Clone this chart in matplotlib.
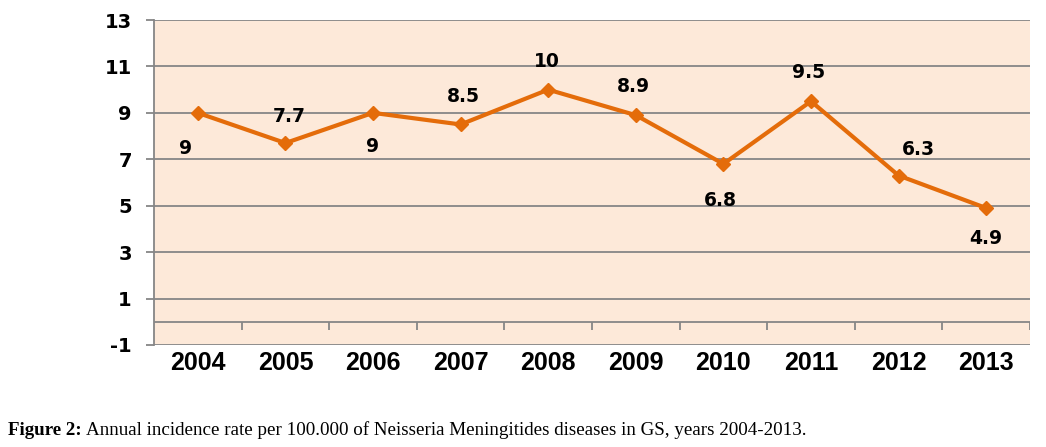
import matplotlib
matplotlib.use('Agg')
import matplotlib.pyplot as plt
import numpy as np

# === DATA ===
years = ['2004', '2005', '2006', '2007', '2008', '2009', '2010', '2011', '2012', '2013']
incidence = [9, 7.7, 9, 8.5, 10, 8.9, 6.8, 9.5, 6.3, 4.9]
value_labels = ['9', '7.7', '9', '8.5', '10', '8.9', '6.8', '9.5', '6.3', '4.9']
y_ticks = [-1, 1, 3, 5, 7, 9, 11, 13]

# label offsets in points (dx, dy), as placed in the original
label_offsets = [(-9, -26), (3, 19), (0, -24), (2, 20), (-1, 20),
                 (-2, 21), (-2, -26), (-2, 21), (14, 19), (0, -22)]

COLORS = {
    'line': '#E46C0A',
    'bg': '#FDE9D9',
    'grid': '#868686',
    'text': '#000000',
}

fig = plt.figure(figsize=(10.46, 4.47), dpi=100)
ax = fig.add_axes([154 / 1046, (447 - 345) / 447, (1030 - 154) / 1046, 325 / 447])
ax.set_facecolor(COLORS['bg'])

x = np.arange(len(years))
ax.plot(x, incidence, color=COLORS['line'], linewidth=3, marker='D',
        markersize=7.5, markeredgecolor=COLORS['line'], zorder=3)

for xi, val, txt, (dx, dy) in zip(x, incidence, value_labels, label_offsets):
    ax.annotate(txt, (xi, val), xytext=(dx, dy), textcoords='offset points',
                ha='center', va='center', fontsize=13.5, fontweight='bold',
                family='DejaVu Sans', color=COLORS['text'])

ax.set_xlim(-0.5, len(years) - 0.5)
ax.set_ylim(y_ticks[0], y_ticks[-1])

# horizontal gridlines
ax.set_yticks(y_ticks)
ax.set_yticklabels([str(t) for t in y_ticks], fontsize=14, fontweight='bold',
                   family='DejaVu Sans')
ax.grid(axis='y', color=COLORS['grid'], linewidth=1.3)
ax.grid(axis='x', visible=False)
ax.set_axisbelow(True)
ax.tick_params(axis='y', length=6, width=1.3, color=COLORS['grid'], pad=10)

# category axis crosses at zero, with tick marks between categories
ax.axhline(0, color=COLORS['grid'], linewidth=1.3, zorder=1)
bounds = np.arange(0.5, len(years), 1.0)
ax.vlines(bounds, -0.34, 0, color=COLORS['grid'], linewidth=1.3, zorder=1)

ax.set_xticks(x)
ax.set_xticklabels(years, fontsize=18, fontweight='bold', family='Liberation Sans')
ax.tick_params(axis='x', length=0, pad=4)

for side in ['top', 'right', 'bottom']:
    ax.spines[side].set_visible(False)
ax.spines['left'].set_color(COLORS['grid'])
ax.spines['left'].set_linewidth(1.3)

# caption: bold lead followed by normal text
cap1 = fig.text(8 / 1046, 12 / 447, 'Figure 2:', fontsize=13.7, fontweight='bold',
                family='Liberation Serif', ha='left', va='baseline')
fig.canvas.draw()
bb = cap1.get_window_extent()
fig.text(bb.x1 / 1046 + 4 / 1046, 12 / 447,
         'Annual incidence rate per 100.000 of Neisseria Meningitides diseases in GS, years 2004-2013.',
         fontsize=13.7, family='Liberation Serif', ha='left', va='baseline')

fig.savefig('out.png', dpi=100, facecolor='white')
plt.close(fig)
